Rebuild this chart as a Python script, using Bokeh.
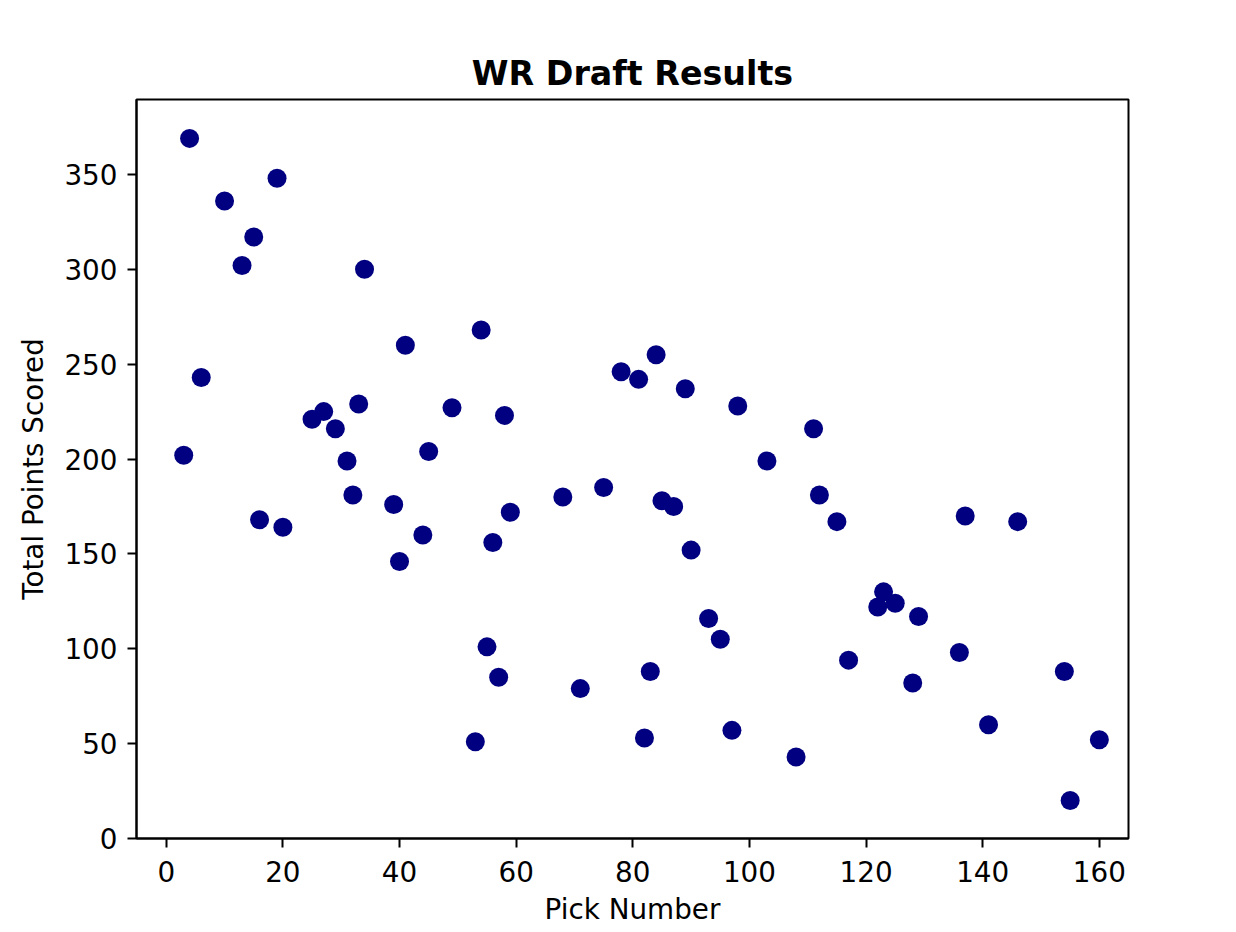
from bokeh.plotting import figure
from bokeh.models import FixedTicker, Range1d
from bokeh.embed import file_html
from bokeh.resources import INLINE

pick_number = [3, 4, 6, 10, 13, 15, 16, 19, 20, 25, 27, 29, 31, 32, 33, 34, 39, 40, 41, 44,
               45, 49, 53, 54, 55, 56, 57, 58, 59, 68, 71, 75, 78, 81, 82, 83, 84, 85, 87, 89,
               90, 93, 95, 97, 98, 103, 108, 111, 112, 115, 117, 122, 123, 125, 128, 129, 136,
               137, 141, 146, 154, 155, 160]
total_points = [202, 369, 243, 336, 302, 317, 168, 348, 164, 221, 225, 216, 199, 181, 229, 300,
                176, 146, 260, 160, 204, 227, 51, 268, 101, 156, 85, 223, 172, 180, 79, 185,
                246, 242, 53, 88, 255, 178, 175, 237, 152, 116, 105, 57, 228, 199, 43, 216,
                181, 167, 94, 122, 130, 124, 82, 117, 98, 170, 60, 167, 88, 20, 52]

x_ticks = [0, 20, 40, 60, 80, 100, 120, 140, 160]
y_ticks = [0, 50, 100, 150, 200, 250, 300, 350]

FONT = "DejaVu Sans"

p = figure(frame_width=992, frame_height=739, width=1228, height=924,
           output_backend="svg", toolbar_location=None,
           x_range=Range1d(-5.1, 165.0), y_range=Range1d(0, 389.5),
           min_border_left=136, min_border_right=100, min_border_top=99,
           min_border_bottom=86, title="WR Draft Results")

p.title.text_font = FONT
p.title.text_font_size = "33.3px"
p.title.text_font_style = "bold"
p.title.align = "center"
p.title.text_color = "black"
p.title.standoff = 14

p.grid.visible = False
p.outline_line_color = "black"
p.outline_line_width = 2
p.outline_line_alpha = 1.0

for ax, ticks in ((p.xaxis, x_ticks), (p.yaxis, y_ticks)):
    ax.ticker = FixedTicker(ticks=ticks)
    ax.minor_tick_line_color = None
    ax.major_tick_out = 9
    ax.major_tick_in = 0
    ax.major_tick_line_width = 2
    ax.major_tick_line_color = "black"
    ax.axis_line_color = "black"
    ax.axis_line_width = 2
    ax.major_label_text_font = FONT
    ax.major_label_text_font_size = "27.8px"
    ax.major_label_text_color = "black"
    ax.axis_label_text_font = FONT
    ax.axis_label_text_font_size = "27.8px"
    ax.axis_label_text_font_style = "normal"
    ax.axis_label_text_color = "black"

p.xaxis.axis_label = "Pick Number"
p.yaxis.axis_label = "Total Points Scored"
p.yaxis.major_label_orientation = "horizontal"
p.xaxis.major_label_standoff = 13
p.yaxis.major_label_standoff = 10
p.xaxis.axis_label_standoff = 8
p.yaxis.axis_label_standoff = 11

p.scatter(pick_number, total_points, size=19, fill_color="navy", line_color=None)

open("out.html", "w").write(file_html(p, INLINE))
